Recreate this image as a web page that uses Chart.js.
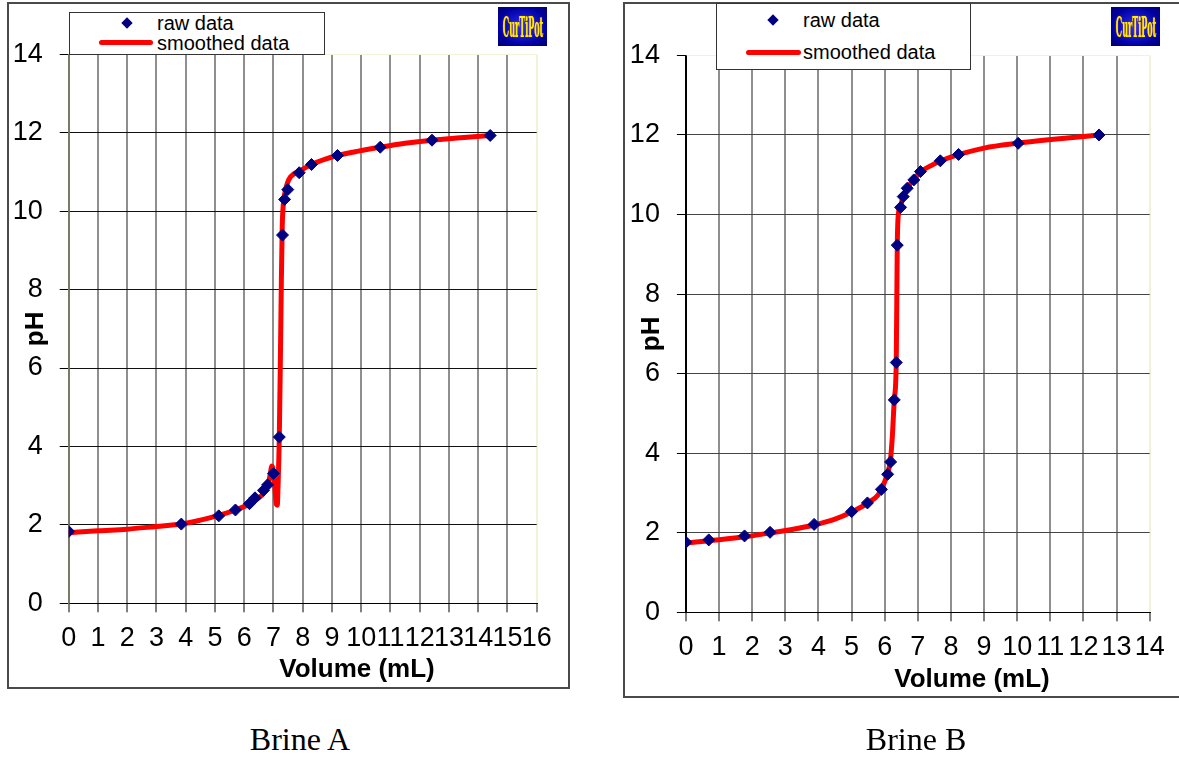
<!DOCTYPE html>
<html>
<head>
<meta charset="utf-8">
<script src="https://cdn.jsdelivr.net/npm/chart.js@4.4.1/dist/chart.umd.min.js"></script>
<style>
body { margin: 0; background: #fff; width: 1179px; height: 758px; position: relative; overflow: hidden; font-family: 'Liberation Sans', Arial, sans-serif; }
.frame { position: absolute; border: 2px solid #4a4a4a; box-sizing: border-box; }
canvas { position: absolute; }
.legend { position: absolute; border: 1.5px solid #333; background: #fff; box-sizing: border-box; }
.legtext { position: absolute; font-size: 20px; line-height: 20px; white-space: nowrap; color: #000; }
.diamond { position: absolute; width: 8px; height: 8px; background: #000080; transform: rotate(45deg); }
.redline { position: absolute; height: 5px; background: #ff0000; border-radius: 3px; }
.logo { position: absolute; width: 49px; height: 39px; background: radial-gradient(ellipse at center, #2c2cff 0%, #0000a0 70%, #000070 100%); overflow: hidden; }
.logo span { position: absolute; left: 50%; top: 50%; font-family: 'DejaVu Serif Condensed', 'DejaVu Serif', serif; font-weight: bold; font-size: 28px; color: #ffee00; text-shadow: 0 0 2px #ff8800; white-space: nowrap; transform: translate(-50%, -50%) scaleX(0.32); }
.xtitle { position: absolute; font-weight: bold; font-size: 26px; line-height: 26px; white-space: nowrap; transform: translate(-50%, -50%); }
.caption { position: absolute; font-family: 'Liberation Serif', 'Times New Roman', serif; font-size: 32px; line-height: 32px; white-space: nowrap; transform: translate(-50%, -50%); }
</style>
</head>
<body>
<div class="frame" style="left:7px; top:2px; width:563px; height:687px;"></div>
<div class="frame" style="left:623px; top:2px; width:600px; height:696px;"></div>

<canvas id="brineA" width="562" height="685" style="left:7px; top:3px;"></canvas>
<canvas id="brineB" width="556" height="695" style="left:623px; top:3px;"></canvas>

<!-- legends -->
<div class="legend" style="left:69px; top:12px; width:256px; height:43px;"></div>
<div class="diamond" style="left:123px; top:19px;"></div>
<div class="legtext" style="left:157px; top:13px;">raw data</div>
<div class="redline" style="left:99px; top:40px; width:54px;"></div>
<div class="legtext" style="left:157px; top:33px;">smoothed data</div>

<div class="legend" style="left:716px; top:3px; width:255px; height:67px;"></div>
<div class="diamond" style="left:769px; top:16px;"></div>
<div class="legtext" style="left:803px; top:10px;">raw data</div>
<div class="redline" style="left:746px; top:50px; width:55px;"></div>
<div class="legtext" style="left:803px; top:42px;">smoothed data</div>

<div class="logo" style="left:498px; top:7px;"><span>CurTiPot</span></div>
<div class="logo" style="left:1111px; top:7px;"><span>CurTiPot</span></div>

<div class="xtitle" style="left:357px; top:668px;">Volume (mL)</div>
<div class="xtitle" style="left:972px; top:678px;">Volume (mL)</div>

<div class="caption" style="left:300px; top:739px;">Brine A</div>
<div class="caption" style="left:916px; top:739px;">Brine B</div>

<script>
// Brine A - raw titration points
const rawVolA = [0, 3.85, 5.13, 5.70, 6.18, 6.37, 6.66, 6.80, 7.00, 7.20, 7.31, 7.38, 7.49, 7.88, 8.30, 9.19, 10.65, 12.42, 14.41];
const rawPhA  = [1.83, 2.02, 2.23, 2.38, 2.54, 2.69, 2.88, 3.02, 3.31, 4.24, 9.39, 10.30, 10.55, 10.98, 11.19, 11.42, 11.63, 11.81, 11.93];

// Brine A - smoothed curve
const smoothVolA = [0, 1, 2, 3, 3.85, 4.5, 5.13, 5.7, 6.2, 6.5, 6.7, 6.82, 6.89, 6.95, 7.0, 7.05, 7.1, 7.13, 7.16, 7.2, 7.24, 7.27, 7.3, 7.34, 7.4, 7.48, 7.58, 7.7, 7.88, 8.3, 8.75, 9.2, 9.9, 10.65, 11.5, 12.42, 13.4, 14.41];
const smoothPhA  = [1.80, 1.85, 1.89, 1.96, 2.02, 2.12, 2.24, 2.38, 2.54, 2.69, 2.84, 3.02, 3.30, 3.50, 3.38, 2.95, 2.52, 2.50, 3.05, 4.24, 6.4, 8.2, 9.6, 10.2, 10.5, 10.72, 10.87, 10.95, 11.02, 11.19, 11.32, 11.42, 11.53, 11.63, 11.73, 11.81, 11.87, 11.93];

// Brine B - raw titration points
const rawVolB = [0, 0.69, 1.77, 2.54, 3.87, 5.0, 5.48, 5.90, 6.09, 6.18, 6.29, 6.35, 6.38, 6.48, 6.56, 6.68, 6.88, 7.08, 7.68, 8.23, 10.03, 12.47];
const rawPhB  = [1.76, 1.82, 1.92, 2.01, 2.21, 2.53, 2.75, 3.09, 3.47, 3.78, 5.34, 6.28, 9.23, 10.18, 10.45, 10.66, 10.87, 11.08, 11.35, 11.51, 11.79, 12.0];

// Brine B - smoothed curve
const smoothVolB = [0, 0.7, 1.8, 2.5, 3.2, 3.9, 4.5, 5.0, 5.5, 5.8, 5.95, 6.08, 6.17, 6.23, 6.29, 6.35, 6.38, 6.42, 6.48, 6.56, 6.68, 6.88, 7.08, 7.4, 7.7, 8.25, 9.0, 10.0, 11.1, 12.47];
const smoothPhB  = [1.74, 1.80, 1.90, 1.99, 2.08, 2.20, 2.34, 2.52, 2.75, 2.95, 3.18, 3.48, 3.80, 4.4, 5.34, 6.3, 9.2, 10.05, 10.22, 10.45, 10.66, 10.88, 11.07, 11.23, 11.35, 11.51, 11.67, 11.79, 11.89, 12.0];

Chart.defaults.font.family = "'Liberation Sans', Arial, sans-serif";
Chart.defaults.color = '#000';

function zip(xs, ys) {
    return xs.map((x, i) => ({ x: x, y: ys[i] }));
}

function buildChart(id, cfg) {
    const ctx = document.getElementById(id).getContext('2d');
    return new Chart(ctx, {
        type: 'scatter',
        data: {
            datasets: [{
                label: 'raw data',
                data: zip(cfg.rawX, cfg.rawY),
                pointStyle: 'rectRot',
                pointRadius: 6,
                backgroundColor: '#000080',
                borderColor: '#000080',
                borderWidth: 1,
                order: 0
            }, {
                label: 'smoothed data',
                data: zip(cfg.smoothX, cfg.smoothY),
                showLine: true,
                pointRadius: 0,
                borderColor: '#ff0000',
                borderWidth: 5,
                borderCapStyle: 'round',
                borderJoinStyle: 'round',
                cubicInterpolationMode: 'monotone',
                order: 1
            }]
        },
        options: {
            responsive: false,
            animation: false,
            devicePixelRatio: 1,
            layout: { padding: { left: 0, top: cfg.padTop, right: cfg.padRight, bottom: 0 } },
            plugins: { legend: { display: false }, tooltip: { enabled: false } },
            scales: {
                x: {
                    type: 'linear',
                    min: 0,
                    max: cfg.xMax,
                    afterFit: (scale) => { scale.height = cfg.xHeight; },
                    ticks: { stepSize: 1, autoSkip: false, maxRotation: 0, padding: 10, font: { size: 27 }, color: '#000' },
                    grid: {
                        color: (c) => {
                            if (!c.tick) return '#8f8f8f';
                            if (c.tick.value === cfg.xMax) return '#f2f2d8';
                            if (c.tick.value === 0) return cfg.yAxisColor;
                            return '#8f8f8f';
                        },
                        lineWidth: 2,
                        tickLength: 9,
                        tickColor: '#000',
                        tickWidth: 1
                    },
                    border: { color: '#000', width: 1 }
                },
                y: {
                    min: 0,
                    max: 14,
                    afterFit: (scale) => { scale.width = cfg.yWidth; },
                    ticks: { stepSize: 2, padding: 17, font: { size: 27 }, color: '#000' },
                    grid: {
                        color: (c) => (c.tick && c.tick.value === 14) ? '#f2f2d8' : cfg.hGridColor,
                        lineWidth: 1,
                        tickLength: 9,
                        tickColor: '#000',
                        tickWidth: 1
                    },
                    border: { color: cfg.yAxisColor, width: 1.5 },
                    title: {
                        display: true,
                        text: 'pH',
                        color: '#000',
                        font: { size: 26, weight: 'bold' },
                        padding: { top: 13, bottom: 0 }
                    }
                }
            }
        }
    });
}

buildChart('brineA', {
    rawX: rawVolA, rawY: rawPhA, smoothX: smoothVolA, smoothY: smoothPhA,
    xMax: 16, padTop: 51.3, padRight: 32.3, yWidth: 61.7, xHeight: 84.7,
    yAxisColor: '#7a7a66', hGridColor: '#111'
});

buildChart('brineB', {
    rawX: rawVolB, rawY: rawPhB, smoothX: smoothVolB, smoothY: smoothPhB,
    xMax: 14, padTop: 52.4, padRight: 29.3, yWidth: 62.9, xHeight: 85.7,
    yAxisColor: '#000', hGridColor: '#444'
});
</script>
</body>
</html>
